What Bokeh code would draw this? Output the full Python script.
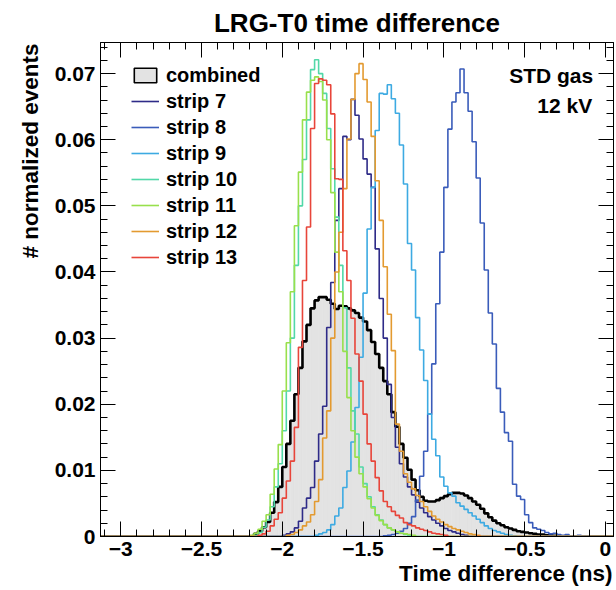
import numpy as np
from bokeh.plotting import figure
from bokeh.models import (Range1d, LinearAxis, FixedTicker, Legend, LegendItem, Label,
                          Title, ColumnDataSource, CDSView, IndexFilter)
from bokeh.embed import file_html
from bokeh.resources import INLINE

# ---------------- data ----------------
BIN_LO = -3.125
BIN_W = 0.025
N_BINS = 127
X_MAX = 0.05
Y_MAX = 0.0747

x_ticks = [-3.0, -2.5, -2.0, -1.5, -1.0, -0.5, 0.0]
x_tick_labels = ["\u22123", "\u22122.5", "\u22122", "\u22121.5", "\u22121", "\u22120.5", "0"]
y_ticks = [0.0, 0.01, 0.02, 0.03, 0.04, 0.05, 0.06, 0.07]
y_tick_labels = ["0", "0.01", "0.02", "0.03", "0.04", "0.05", "0.06", "0.07"]

combined_start = -2.175
combined = [0.0004, 0.0008, 0.0014, 0.0022, 0.0036, 0.0052, 0.0075, 0.0105, 0.0140, 0.0175,
            0.0215, 0.0255, 0.0295, 0.0320, 0.0345, 0.0357, 0.0362, 0.0362, 0.0358, 0.0352,
            0.0344, 0.0349, 0.0348, 0.0345, 0.0342, 0.0338, 0.0331, 0.0325, 0.0312, 0.0294,
            0.0276, 0.0255, 0.0235, 0.0215, 0.0188, 0.0166, 0.0140, 0.0119, 0.0101, 0.0086,
            0.0070, 0.0060, 0.0054, 0.0053, 0.0053, 0.0055, 0.0058, 0.0061, 0.0064, 0.0066,
            0.0066, 0.0065, 0.0062, 0.0058, 0.0053, 0.0048, 0.0042, 0.0035, 0.0029, 0.0024,
            0.0020, 0.0017, 0.0014, 0.0012, 0.0010, 0.0008, 0.0007, 0.0006, 0.0005, 0.0004,
            0.0003, 0.0003, 0.0002, 0.0002, 0.0001]

strip7_start = -2.0
strip7 = [0.0002, 0.0004, 0.0007, 0.0013, 0.0023, 0.0043, 0.0058, 0.0074, 0.0114, 0.0155,
          0.0197, 0.0316, 0.0384, 0.0478, 0.0526, 0.0605, 0.0600, 0.0661, 0.0637, 0.0601,
          0.0571, 0.0548, 0.0528, 0.0435, 0.0360, 0.0300, 0.0230, 0.0180, 0.0135, 0.0110,
          0.0090, 0.0075, 0.0063, 0.0052, 0.0043, 0.0036, 0.0030, 0.0025, 0.0020, 0.0016,
          0.0012, 0.0009, 0.0007, 0.0005, 0.0003, 0.0002]

strip8_start = -1.375
strip8 = [0.0001, 0.0002, 0.0003, 0.0005, 0.0008, 0.0012, 0.0020, 0.0030, 0.0055, 0.0091,
          0.0129, 0.0185, 0.0261, 0.0352, 0.0430, 0.0528, 0.0616, 0.0657, 0.0671, 0.0707,
          0.0671, 0.0643, 0.0597, 0.0542, 0.0474, 0.0403, 0.0338, 0.0291, 0.0224, 0.0188,
          0.0157, 0.0144, 0.0079, 0.0061, 0.0056, 0.0033, 0.0021, 0.0013, 0.0011, 0.0009,
          0.0006, 0.0004, 0.0005, 0.0003, 0.0002, 0.0003, 0.0001, 0.0001, 0.0002, 0.0001,
          0.0001]

strip9_start = -1.8
strip9 = [0.0002, 0.0004, 0.0006, 0.0010, 0.0018, 0.0031, 0.0043, 0.0074, 0.0099, 0.0143,
          0.0195, 0.0271, 0.0368, 0.0465, 0.0528, 0.0614, 0.0670, 0.0669, 0.0683, 0.0662,
          0.0640, 0.0592, 0.0533, 0.0443, 0.0403, 0.0331, 0.0282, 0.0236, 0.0185, 0.0147,
          0.0122, 0.0090, 0.0076, 0.0066, 0.0061, 0.0051, 0.0046, 0.0041, 0.0036, 0.0031,
          0.0026, 0.0021, 0.0016, 0.0012, 0.0009, 0.0007, 0.0005, 0.0003, 0.0002, 0.0001]

strip10_start = -2.175
strip10 = [0.0002, 0.0006, 0.0014, 0.0025, 0.0045, 0.0075, 0.0110, 0.0160, 0.0220, 0.0300,
           0.0410, 0.0500, 0.0570, 0.0630, 0.0706, 0.0721, 0.0700, 0.0670, 0.0617, 0.0556,
           0.0483, 0.0410, 0.0346, 0.0255, 0.0190, 0.0155, 0.0105, 0.0080, 0.0060, 0.0045,
           0.0033, 0.0025, 0.0018, 0.0013, 0.0010, 0.0007, 0.0005, 0.0003, 0.0002]

strip11_start = -2.2
strip11 = [0.0002, 0.0005, 0.0011, 0.0023, 0.0033, 0.0064, 0.0102, 0.0139, 0.0220, 0.0293,
           0.0370, 0.0470, 0.0551, 0.0630, 0.0672, 0.0690, 0.0695, 0.0688, 0.0660, 0.0600,
           0.0520, 0.0430, 0.0370, 0.0280, 0.0210, 0.0160, 0.0120, 0.0095, 0.0075, 0.0057,
           0.0043, 0.0032, 0.0024, 0.0018, 0.0013, 0.0010, 0.0007, 0.0005, 0.0004, 0.0003,
           0.0002]

strip12_start = -1.975
strip12 = [0.0002, 0.0003, 0.0006, 0.0010, 0.0016, 0.0022, 0.0033, 0.0053, 0.0086, 0.0149,
           0.0190, 0.0300, 0.0400, 0.0460, 0.0526, 0.0601, 0.0661, 0.0700, 0.0715, 0.0691,
           0.0657, 0.0605, 0.0538, 0.0478, 0.0408, 0.0336, 0.0281, 0.0170, 0.0129, 0.0095,
           0.0082, 0.0072, 0.0062, 0.0053, 0.0045, 0.0038, 0.0031, 0.0026, 0.0022, 0.0018,
           0.0015, 0.0012, 0.0010, 0.0008, 0.0006, 0.0004, 0.0003, 0.0002]

strip13_start = -2.15
strip13 = [0.0002, 0.0004, 0.0008, 0.0016, 0.0026, 0.0036, 0.0058, 0.0084, 0.0114, 0.0165,
           0.0286, 0.0387, 0.0468, 0.0617, 0.0685, 0.0692, 0.0690, 0.0683, 0.0639, 0.0541,
           0.0540, 0.0432, 0.0387, 0.0330, 0.0276, 0.0235, 0.0185, 0.0140, 0.0114, 0.0089,
           0.0069, 0.0053, 0.0045, 0.0038, 0.0032, 0.0028, 0.0021, 0.0018, 0.0016, 0.0013,
           0.0011, 0.0009, 0.0007, 0.0005, 0.0004, 0.0003, 0.0002]

strip_names = ["strip 7", "strip 8", "strip 9", "strip 10", "strip 11", "strip 12", "strip 13"]
strip_data = [(strip7_start, strip7), (strip8_start, strip8), (strip9_start, strip9),
              (strip10_start, strip10), (strip11_start, strip11), (strip12_start, strip12),
              (strip13_start, strip13)]
strip_colors = ["#2e2b88", "#3a5cba", "#3daae2", "#52d8a8", "#98e04c", "#e39a30", "#e8453a"]

# ---------------- helpers ----------------
edges = BIN_LO + BIN_W * np.arange(N_BINS + 1)


def full_hist(start, vals):
    arr = np.zeros(N_BINS)
    i0 = int(round((start - BIN_LO) / BIN_W))
    arr[i0:i0 + len(vals)] = vals
    return arr


FONT = "Liberation Sans"

p = figure(width=616, height=590, x_range=Range1d(BIN_LO, X_MAX), y_range=Range1d(0, Y_MAX),
           output_backend="svg", toolbar_location=None,
           x_axis_type=None, y_axis_type=None,
           min_border_left=100, min_border_right=3, min_border_top=42, min_border_bottom=54)
p.xgrid.visible = False
p.ygrid.visible = False
p.outline_line_color = "black"
p.outline_line_width = 1
p.background_fill_color = "white"
p.border_fill_color = "white"

p.title.text = "LRG-T0 time difference"
p.title.align = "center"
p.title.text_font = FONT
p.title.text_font_style = "bold"
p.title.text_font_size = "26px"
p.title.text_color = "black"

x_minor = list(np.round(np.arange(-3.1, 0.001, 0.1), 3))
y_minor = list(np.round(np.arange(0.0, 0.0745, 0.002), 4))


def style_axis(ax, labels=True):
    ax.major_tick_in = 15
    ax.major_tick_out = 0
    ax.minor_tick_in = 7
    ax.minor_tick_out = 0
    ax.axis_line_color = "black"
    ax.major_tick_line_color = "black"
    ax.minor_tick_line_color = "black"
    if labels:
        ax.major_label_text_font = FONT
        ax.major_label_text_font_style = "bold"
        ax.major_label_text_font_size = "21px"
        ax.major_label_text_color = "black"
    else:
        ax.major_label_text_font_size = "0px"
        ax.major_label_text_color = None
        ax.major_label_standoff = 0


xb = LinearAxis(ticker=FixedTicker(ticks=x_ticks, minor_ticks=x_minor),
                major_label_overrides=dict(zip(x_ticks, x_tick_labels)))
style_axis(xb)
xb.major_label_standoff = 5
p.add_layout(xb, "below")

xt = LinearAxis(ticker=FixedTicker(ticks=x_ticks, minor_ticks=x_minor))
style_axis(xt, labels=False)
p.add_layout(xt, "above")

yl = LinearAxis(ticker=FixedTicker(ticks=y_ticks, minor_ticks=y_minor),
                major_label_overrides=dict(zip(y_ticks, y_tick_labels)))
style_axis(yl)
yl.major_label_standoff = 5
p.add_layout(yl, "left")

yr = LinearAxis(ticker=FixedTicker(ticks=y_ticks, minor_ticks=y_minor))
style_axis(yr, labels=False)
p.add_layout(yr, "right")

# axis titles
p.add_layout(Title(text="Time difference (ns)", align="right", offset=1,
                   text_font=FONT, text_font_style="bold", text_font_size="22.5px",
                   text_color="black", standoff=0), "below")
p.add_layout(Title(text="# normalized events", align="right", offset=1,
                   text_font=FONT, text_font_style="bold", text_font_size="22.5px",
                   text_color="black", standoff=18), "left")

# combined: filled histogram
comb = full_hist(combined_start, combined)
comb_src = ColumnDataSource(dict(left=edges[:-1], right=edges[1:], top=comb,
                                 bottom=np.zeros(N_BINS)))
p.quad(left="left", right="right", bottom="bottom", top="top", source=comb_src,
       fill_color="#e3e3e3", line_color="#e3e3e3", line_width=0.6)
p.step(x=edges, y=np.append(comb, comb[-1]), mode="after",
       line_color="black", line_width=2.6)
# legend box for "combined": shows only the first (empty, zero-height) bin
leg_patch = p.quad(left="left", right="right", bottom="bottom", top="top", source=comb_src,
                   view=CDSView(filter=IndexFilter(indices=[0])),
                   fill_color="#e3e3e3", line_color="black", line_width=1.6)

items = [LegendItem(label="combined", renderers=[leg_patch])]
for name, (st, vals), col in zip(strip_names, strip_data, strip_colors):
    h = full_hist(st, vals)
    r = p.step(x=edges, y=np.append(h, h[-1]), mode="after",
               line_color=col, line_width=1.6)
    items.append(LegendItem(label=name, renderers=[r]))

legend = Legend(items=items, location=(26, 262))
legend.border_line_alpha = 0
legend.background_fill_alpha = 0
legend.label_text_font = FONT
legend.label_text_font_style = "bold"
legend.label_text_font_size = "20px"
legend.label_text_color = "black"
legend.glyph_width = 28
legend.glyph_height = 18
legend.label_height = 24
legend.spacing = 2
legend.padding = 5
legend.label_standoff = 7
legend.margin = 0
p.add_layout(legend)

# in-frame texts
p.add_layout(Label(x=-0.0755, y=0.0697, text="STD gas",
                   text_align="right", text_baseline="alphabetic", text_font=FONT,
                   text_font_style="bold", text_font_size="21px", text_color="black"))
p.add_layout(Label(x=-0.0817, y=0.0652, text="12 kV",
                   text_align="right", text_baseline="alphabetic", text_font=FONT,
                   text_font_style="bold", text_font_size="21px", text_color="black"))

open("out.html", "w").write(file_html(p, INLINE))
